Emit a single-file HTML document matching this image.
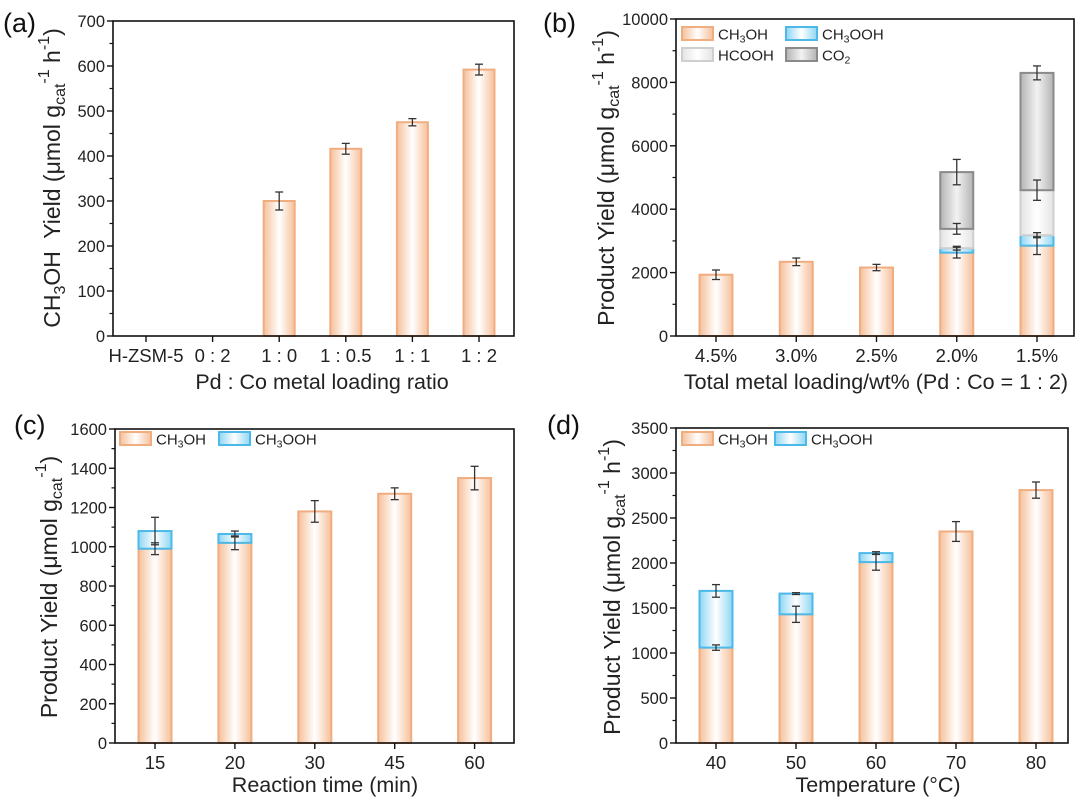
<!DOCTYPE html>
<html><head><meta charset="utf-8"><style>
body{margin:0;background:#fff}
svg{display:block;font-family:"Liberation Sans",Arial,sans-serif}
</style></head><body>
<svg id="fig" width="1080" height="801" viewBox="0 0 1080 801">
<defs>
<linearGradient id="gOr" x1="0" x2="1" y1="0" y2="0"><stop offset="0" stop-color="#f6c09a"/><stop offset="0.5" stop-color="#ffffff"/><stop offset="1" stop-color="#f6c09a"/></linearGradient>
<linearGradient id="gBl" x1="0" x2="1" y1="0" y2="0"><stop offset="0" stop-color="#8fd6f4"/><stop offset="0.5" stop-color="#ffffff"/><stop offset="1" stop-color="#8fd6f4"/></linearGradient>
<linearGradient id="gLg" x1="0" x2="1" y1="0" y2="0"><stop offset="0" stop-color="#e4e4e4"/><stop offset="0.5" stop-color="#ffffff"/><stop offset="1" stop-color="#e4e4e4"/></linearGradient>
<linearGradient id="gDg" x1="0" x2="1" y1="0" y2="0"><stop offset="0" stop-color="#b4b4b4"/><stop offset="0.5" stop-color="#f2f2f2"/><stop offset="1" stop-color="#b4b4b4"/></linearGradient>
</defs>
</svg>
<script>
// ---- data ----
const catsA = ["H-ZSM-5","0 : 2","1 : 0","1 : 0.5","1 : 1","1 : 2"];
const aCH3OH = [0,0,300,416,475,592];
const aErr = [0,0,20,12,8,12];

const catsB = ["4.5%","3.0%","2.5%","2.0%","1.5%"];
const bCH3OH = [1932,2340,2160,2630,2850];
const bCH3OOH = [0,0,0,140,330];
const bHCOOH = [0,0,0,610,1420];
const bCO2 = [0,0,0,1790,3700];
const bErrCH3OH = [150,120,100,170,280];
const bErrCH3OOH = [0,0,0,60,80];
const bErrHCOOH = [0,0,0,170,320];
const bErrCO2 = [0,0,0,400,220];

const catsC = ["15","20","30","45","60"];
const cCH3OH = [990,1020,1180,1270,1350];
const cCH3OOH = [90,45,0,0,0];
const cErrCH3OH = [30,35,55,30,60];
const cErrCH3OOH = [70,15,0,0,0];

const catsD = ["40","50","60","70","80"];
const dCH3OH = [1060,1430,2010,2350,2810];
const dCH3OOH = [630,230,100,0,0];
const dErrCH3OH = [30,90,90,110,90];
const dErrCH3OOH = [70,10,15,0,0];

const yTicksA = [0,100,200,300,400,500,600,700];
const yTicksB = [0,2000,4000,6000,8000,10000];
const yTicksC = [0,200,400,600,800,1000,1200,1400,1600];
const yTicksD = [0,500,1000,1500,2000,2500,3000,3500];

const NS="http://www.w3.org/2000/svg";
const svg=document.getElementById('fig');
function mk(tag,attrs,parent){const e=document.createElementNS(NS,tag);for(const k in attrs)e.setAttribute(k,attrs[k]);(parent||svg).appendChild(e);return e;}

const STY={
 or:{fill:"url(#gOr)",stroke:"#f0ad80"},
 bl:{fill:"url(#gBl)",stroke:"#4cb9e8"},
 lg:{fill:"url(#gLg)",stroke:"#cfcfcf"},
 dg:{fill:"url(#gDg)",stroke:"#8a8a8a"}
};

function panel(p){
 const g=mk('g',{});
 
 
 const yMin=p.ticks[0], yMax=p.ticks[p.ticks.length-1];
 const Y=v=>p.b-(v-yMin)/(yMax-yMin)*(p.b-p.t);
 const X=i=>p.l+p.pad+i*p.step;
 p.series.forEach((s,si)=>{
  s.vals.forEach((v,i)=>{
   if(v<=0) return;
   let base=0; for(let k=0;k<si;k++) base+=p.series[k].vals[i];
   const r=mk('rect',{x:X(i)-p.bw/2,y:Y(base+v),width:p.bw,height:Y(base)-Y(base+v),fill:STY[s.st].fill,stroke:STY[s.st].stroke,'stroke-width':2},g);
   
   
  });
 });
 p.series.forEach((s,si)=>{
  if(!s.err) return;
  s.vals.forEach((v,i)=>{
   const e=s.err[i]; if(!e||v<=0) return;
   let top=0; for(let k=0;k<=si;k++) top+=p.series[k].vals[i];
   const x=X(i), y1=Y(top+e), y2=Y(top-e);
   const eg=mk('g',{stroke:"#333",'stroke-width':1.3},g);
   
   
   mk('line',{x1:x,x2:x,y1:y1,y2:y2},eg);
   mk('line',{x1:x-4,x2:x+4,y1:y1,y2:y1},eg);
   mk('line',{x1:x-4,x2:x+4,y1:y2,y2:y2},eg);
  });
 });
 const fr=mk('rect',{x:p.l,y:p.t,width:p.r-p.l,height:p.b-p.t,fill:"none",stroke:"#111",'stroke-width':1.6},g);
 
 
 p.ticks.forEach((v,k)=>{
  const y=Y(v);
  mk('line',{x1:p.l-6,x2:p.l,y1:y,y2:y,stroke:"#111",'stroke-width':1.4},g);
  if(k<p.ticks.length-1){const ym=Y(v+(p.ticks[1]-p.ticks[0])/2);mk('line',{x1:p.l-3.5,x2:p.l,y1:ym,y2:ym,stroke:"#111",'stroke-width':1.2},g);}
  const t=mk('text',{x:p.l-8,y:y+6,'text-anchor':'end','font-size':16.5,fill:"#222"},g);
  t.textContent=v;
  
  
 });
 p.cats.forEach((c,i)=>{
  const x=X(i);
  mk('line',{x1:x,x2:x,y1:p.b,y2:p.b+6,stroke:"#111",'stroke-width':1.4},g);
  const t=mk('text',{x:x,y:p.b+26,'text-anchor':'middle','font-size':18.5,fill:"#222"},g);
  t.textContent=c;
  
  
 });
 return g;
}

panel({name:'panel-a',l:113,r:514,t:21,b:336,pad:33,step:66.6,bw:31,ticks:yTicksA,cats:catsA,
 series:[{key:'ch3oh',st:'or',vals:aCH3OH,err:aErr}]});
panel({name:'panel-b',l:676,r:1074,t:19,b:336,pad:40,step:80.25,bw:33,ticks:yTicksB,cats:catsB,
 series:[{key:'ch3oh',st:'or',vals:bCH3OH,err:bErrCH3OH},{key:'ch3ooh',st:'bl',vals:bCH3OOH,err:bErrCH3OOH},{key:'hcooh',st:'lg',vals:bHCOOH,err:bErrHCOOH},{key:'co2',st:'dg',vals:bCO2,err:bErrCO2}]});
panel({name:'panel-c',l:115,r:514,t:429,b:743,pad:40,step:79.9,bw:33,ticks:yTicksC,cats:catsC,
 series:[{key:'ch3oh',st:'or',vals:cCH3OH,err:cErrCH3OH},{key:'ch3ooh',st:'bl',vals:cCH3OOH,err:cErrCH3OOH}]});
panel({name:'panel-d',l:676,r:1068,t:428,b:743,pad:40,step:80,bw:33,ticks:yTicksD,cats:catsD,
 series:[{key:'ch3oh',st:'or',vals:dCH3OH,err:dErrCH3OH},{key:'ch3ooh',st:'bl',vals:dCH3OOH,err:dErrCH3OOH}]});

function legend(x,y,st,html,nm){
 const g=mk('g',{});
 
 
 mk('rect',{x:x,y:y,width:31,height:13,fill:STY[st].fill,stroke:STY[st].stroke,'stroke-width':2},g);
 const t=mk('text',{x:x+36,y:y+12.5,'font-size':15,fill:"#222"},g);
 t.innerHTML=html;
}
const CH3OH='CH<tspan font-size="10.5" dy="3">3</tspan><tspan dy="-3">OH</tspan>';
const CH3OOH='CH<tspan font-size="10.5" dy="3">3</tspan><tspan dy="-3">OOH</tspan>';
legend(682,27,'or',CH3OH,'legend-entry-ch3oh');
legend(786,27,'bl',CH3OOH,'legend-entry-ch3ooh');
legend(682,48,'lg','HCOOH','legend-entry-hcooh');
legend(786,48,'dg','CO<tspan font-size="10.5" dy="3">2</tspan>','legend-entry-co2');
legend(120,432,'or',CH3OH,'legend-entry-ch3oh');
legend(219,432,'bl',CH3OOH,'legend-entry-ch3ooh');
legend(682,432,'or',CH3OH,'legend-entry-ch3oh');
legend(775,432,'bl',CH3OOH,'legend-entry-ch3ooh');
</script>
<script>
(function(){
const svg=document.getElementById('fig');const NS="http://www.w3.org/2000/svg";
function txt(html,attrs,nm){const t=document.createElementNS(NS,'text');for(const k in attrs)t.setAttribute(k,attrs[k]);t.innerHTML=html;


svg.appendChild(t);}
const unitH='(μmol g<tspan font-size="16" dy="5">cat</tspan><tspan font-size="16" dy="-16">-1</tspan><tspan dy="11"> h</tspan><tspan font-size="16" dy="-11">-1</tspan><tspan dy="11">)</tspan>';
const unitC='(μmol g<tspan font-size="16" dy="5">cat</tspan><tspan font-size="16" dy="-16">-1</tspan><tspan dy="11">)</tspan>';
const T={'text-anchor':'middle','font-size':23,fill:'#222'};
const TX={'text-anchor':'middle','font-size':21.5,fill:'#222'};
txt('(a)',{x:3,y:32,'font-size':27,fill:'#111'},'panel-label-a');
txt('(b)',{x:543,y:32,'font-size':27,fill:'#111'},'panel-label-b');
txt('(c)',{x:14,y:434,'font-size':27,fill:'#111'},'panel-label-c');
txt('(d)',{x:547,y:434,'font-size':27,fill:'#111'},'panel-label-d');
txt('CH<tspan font-size="16" dy="5">3</tspan><tspan dy="-5" xml:space="preserve">OH  Yield </tspan>'+unitH,Object.assign({transform:'translate(60,178) rotate(-90)'},T),'y-axis-title-a');
txt('Product Yield '+unitH,Object.assign({transform:'translate(614,178) rotate(-90)'},T),'y-axis-title-b');
txt('Product Yield '+unitC,Object.assign({transform:'translate(57,587) rotate(-90)'},T),'y-axis-title-c');
txt('Product Yield '+unitH,Object.assign({transform:'translate(620,587) rotate(-90)'},T),'y-axis-title-d');
txt('Pd : Co metal loading ratio',Object.assign({x:322,y:389},TX),'x-axis-title-a');
txt('Total metal loading/wt% (Pd : Co = 1 : 2)',Object.assign({x:876,y:389},TX),'x-axis-title-b');
txt('Reaction time (min)',Object.assign({x:325,y:792},TX),'x-axis-title-c');
txt('Temperature (°C)',Object.assign({x:878,y:792},TX),'x-axis-title-d');
})();
</script>
</body></html>
